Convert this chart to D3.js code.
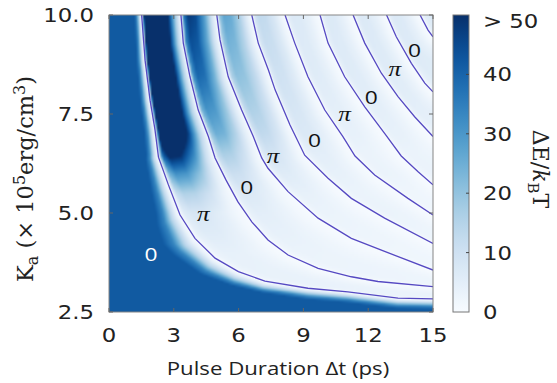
<!DOCTYPE html>
<html>
<head>
<meta charset="utf-8">
<script src="https://cdn.jsdelivr.net/npm/d3@7"></script>
<style>
  body { margin: 0; background: #fff; }
</style>
</head>
<body>
<svg id="chart" width="557" height="383"></svg>
<script>
// phase contours, as [pulse duration (ps), Ka]
const contour1 = [[1.51,10],[1.67,8.86],[1.90,7.85],[2.13,7.10],[2.29,6.41],[2.75,5.71],[3.29,4.95],[3.98,4.36],[4.91,3.86],[5.99,3.52],[7.22,3.28],[9.21,3.10],[11.06,3.01],[13.38,2.85],[15,2.83]];
const contour2 = [[3.33,10],[3.44,9.29],[3.75,8.44],[4.13,7.60],[4.60,6.93],[4.91,6.39],[5.42,5.83],[5.97,5.28],[6.62,4.77],[7.36,4.32],[8.29,3.94],[9.68,3.60],[11.22,3.39],[12.45,3.27],[15,3.14]];
const contour3 = [[4.99,10],[5.14,9.37],[5.52,8.44],[6.14,7.60],[6.68,6.93],[7.07,6.39],[7.36,6.13],[8.29,5.54],[9.68,4.87],[11.22,4.36],[12.76,4.03],[15,3.56]];
const contour4 = [[6.61,10],[6.91,9.29],[7.38,8.61],[7.69,8.11],[8.38,7.22],[9.06,6.46],[10.14,5.88],[11.22,5.37],[12.76,4.87],[15,4.23]];
const contour5 = [[8.15,10],[8.60,9.29],[9.21,8.44],[9.99,7.60],[10.83,6.93],[11.39,6.44],[12.30,5.96],[13.84,5.37],[15,4.95]];
const contour6 = [[9.77,10],[10.14,9.29],[10.91,8.44],[11.84,7.68],[12.76,7.01],[13.53,6.44],[14.31,6.04],[15,5.71]];
const contour7 = [[11.30,10],[11.84,9.29],[12.61,8.53],[13.38,7.94],[14.15,7.43],[15,6.93]];
const contour8 = [[12.85,10],[13.30,9.45],[14.00,8.78],[14.62,8.28],[15,8.06]];
const contour9 = [[14.40,10],[14.77,9.62],[15,9.45]];
const contours = [contour1, contour2, contour3, contour4, contour5, contour6, contour7, contour8, contour9];

// final state written in each band
const bandLabels = ["0", "π", "0", "π", "0", "π", "0", "π", "0"];
const bandLabelT = [1.94, 4.37, 6.38, 7.59, 9.52, 10.91, 12.14, 13.23, 14.15];
const bandLabelK = [3.96, 4.91, 5.66, 6.38, 6.84, 7.43, 7.94, 8.57, 9.12];

// peak barrier (kBT) inside each band, at these Ka levels
const peakK     = [2.5, 4, 5, 5.5, 6, 6.5, 7, 8.5, 10];
const peakBand1 = [3, 4, 8, 16, 32, 55, 78, 90, 90];
const peakBand2 = [2, 3, 5, 7, 11, 17, 25, 40, 48];
const peakBand3 = [2, 2, 3, 4, 6, 9, 13, 21, 27];
const peakBand4 = [2, 2, 3, 3, 4, 5, 7, 10, 13];
const peakRest  = [2, 2, 2, 2, 3, 3, 4, 6, 7];
// how the barrier runs across a band, from one contour to the next
const bandPos   = [0, 0.08, 0.2, 0.4, 0.65, 0.85, 1];
const bandShare = [0, 0.75, 1, 0.95, 0.6, 0.2, 0];
// first band (no switching): level and fade in front of the first contour
const band0Level = 42;
const fadeK     = [2.5, 3.0, 3.5, 4.2, 5, 6.5, 10];
const fadeWidth = [10, 12, 22, 30, 22, 12, 7];
const fadePos   = [0, 0.15, 0.4, 0.7, 1];
const fadeShare = [0, 0.08, 0.35, 0.8, 1];

const xTicks = [0, 3, 6, 9, 12, 15];
const yTicks = [2.5, 5.0, 7.5, 10.0];
const cbTicks = [0, 10, 20, 30, 40, 50];
const cbLabels = ["0", "10", "20", "30", "40", "> 50"];

const W = 557, H = 383;
const margin = { top: 15, right: 124, bottom: 71, left: 109 };
const width = W - margin.left - margin.right;
const height = H - margin.top - margin.bottom;
const stretch = 1.2; // the figure is a bit wider than tall
const sansFont = "'Open Sans', sans-serif";
const tickFont = "'DejaVu Sans', sans-serif";
const serifFont = "'DejaVu Serif', serif";
const piFont = "'Liberation Serif', serif";

const svg = d3.select("#chart");
const g = svg.append("g").attr("transform", `translate(${margin.left},${margin.top})`);

const x = d3.scaleLinear().domain([0, 15]).range([0, width]);
const y = d3.scaleLinear().domain([2.5, 10]).range([height, 0]);
const color = d3.scaleSequential(d3.interpolateBlues).domain([0, 50]).clamp(true);

const peakScales = [peakBand1, peakBand2, peakBand3, peakBand4, peakRest]
  .map(r => d3.scaleLinear().domain(peakK).range(r).clamp(true));
const shape = d3.scaleLinear().domain(bandPos).range(bandShare).clamp(true);
const fade = d3.scaleLinear().domain(fadeK).range(fadeWidth).clamp(true);
const fadeShape = d3.scaleLinear().domain(fadePos).range(fadeShare).clamp(true);

// contours in pixel space
const cpx = contours.map(c => c.map(([t, k]) => [x(t), y(k)]));

function beyond(c, px, py) {
  if (py < c[0][1] || py > c[c.length - 1][1]) return false;
  for (let i = 1; i < c.length; i++) {
    if (py <= c[i][1]) {
      const [x0, y0] = c[i - 1], [x1, y1] = c[i];
      const xi = y1 === y0 ? Math.max(x0, x1) : x0 + (x1 - x0) * (py - y0) / (y1 - y0);
      return px > xi;
    }
  }
  return false;
}

function dist(c, px, py) {
  let best = Infinity;
  for (let i = 1; i < c.length; i++) {
    const [x0, y0] = c[i - 1], [x1, y1] = c[i];
    const dx = x1 - x0, dy = y1 - y0;
    let u = ((px - x0) * dx + (py - y0) * dy) / (dx * dx + dy * dy);
    u = Math.max(0, Math.min(1, u));
    const ex = x0 + u * dx - px, ey = y0 + u * dy - py;
    best = Math.min(best, ex * ex + ey * ey);
  }
  return Math.sqrt(best);
}

function barrier(px, py) {
  let n = 0;
  while (n < cpx.length && beyond(cpx[n], px, py)) n++;
  const k = y.invert(py);
  if (n === 0) {
    return band0Level * fadeShape(dist(cpx[0], px, py) / fade(k));
  }
  const dPrev = dist(cpx[n - 1], px, py);
  const dNext = n < cpx.length ? dist(cpx[n], px, py) : 40;
  return peakScales[Math.min(n, 5) - 1](k) * shape(dPrev / (dPrev + dNext));
}

// heatmap raster, one cell per 2 px
const cell = 2;
const cols = Math.ceil(width / cell), rows = Math.ceil(height / cell);
const canvas = document.createElement("canvas");
canvas.width = cols; canvas.height = rows;
const ctx = canvas.getContext("2d");
for (let j = 0; j < rows; j++) {
  for (let i = 0; i < cols; i++) {
    ctx.fillStyle = color(barrier((i + 0.5) * cell, Math.min(height, (j + 0.5) * cell)));
    ctx.fillRect(i, j, 1, 1);
  }
}

svg.append("defs").append("clipPath").attr("id", "plot-clip")
  .append("rect").attr("width", width).attr("height", height);

const plot = g.append("g").attr("clip-path", "url(#plot-clip)");
plot.append("image")
  .attr("href", canvas.toDataURL())
  .attr("width", cols * cell)
  .attr("height", rows * cell)
  .attr("preserveAspectRatio", "none");

const line = d3.line().x(d => x(d[0])).y(d => y(d[1]));
plot.selectAll(".contour")
  .data(contours)
  .enter()
  .append("path")
  .attr("class", "contour")
  .attr("d", line)
  .attr("fill", "none")
  .attr("stroke", "#5549c2")
  .attr("stroke-width", 1.3);

// helper for the horizontally stretched text
function label(parent, px, py, txt, opts) {
  const t = parent.append("text")
    .attr("transform", `translate(${px},${py}) scale(${opts.sx || 1},1)${opts.rotate ? ` rotate(${opts.rotate})` : ""}`)
    .attr("text-anchor", opts.anchor || "middle")
    .attr("font-family", opts.font || sansFont)
    .attr("font-size", opts.size || 19.5)
    .attr("fill", opts.fill || "#222");
  if (opts.italic) t.attr("font-style", "italic");
  if (txt !== null) t.text(txt);
  return t;
}

bandLabels.forEach((s, i) => {
  const isPi = s === "π";
  label(g, x(bandLabelT[i]), y(bandLabelK[i]) + (isPi ? 4.5 : 7), s, {
    sx: stretch,
    size: isPi ? 21 : 19,
    font: isPi ? piFont : sansFont,
    italic: isPi,
    fill: i === 0 ? "#fff" : "#111"
  });
});

// frame and inward ticks
g.append("rect").attr("width", width).attr("height", height)
  .attr("fill", "none").attr("stroke", "#858585").attr("stroke-width", 1);
const tickLen = 4;
xTicks.forEach(v => {
  g.append("line").attr("x1", x(v)).attr("x2", x(v)).attr("y1", height).attr("y2", height - tickLen).attr("stroke", "#666");
  g.append("line").attr("x1", x(v)).attr("x2", x(v)).attr("y1", 0).attr("y2", tickLen).attr("stroke", "#666");
  label(g, x(v), height + 29.5, String(v), { sx: stretch, font: tickFont, size: 19 });
});
yTicks.forEach(v => {
  g.append("line").attr("x1", 0).attr("x2", tickLen).attr("y1", y(v)).attr("y2", y(v)).attr("stroke", "#666");
  g.append("line").attr("x1", width).attr("x2", width - tickLen).attr("y1", y(v)).attr("y2", y(v)).attr("stroke", "#666");
  label(g, -15, y(v) + 7, v.toFixed(1), { sx: stretch, anchor: "end", font: tickFont, size: 19 });
});

// axis titles
label(svg, 278, 375, "Pulse Duration Δt (ps)", { sx: stretch, size: 18.5 });

const yt = label(svg, 33, 179, null, { rotate: -90, font: serifFont, size: 22.5 });
yt.append("tspan").text("K");
yt.append("tspan").attr("dy", 5).attr("font-size", 16).text("a");
yt.append("tspan").attr("dy", -5).text(" (× 10");
yt.append("tspan").attr("dy", -8).attr("font-size", 16).text("5");
yt.append("tspan").attr("dy", 8).text("erg/cm");
yt.append("tspan").attr("dy", -8).attr("font-size", 16).text("3");
yt.append("tspan").attr("dy", 8).text(")");

// colour bar
const cbX = 453, cbW = 16;
const cb = d3.scaleLinear().domain([0, 50]).range([margin.top + height, margin.top]);
const grad = svg.select("defs").append("linearGradient")
  .attr("id", "cb-grad").attr("x1", 0).attr("x2", 0).attr("y1", 1).attr("y2", 0);
grad.selectAll("stop")
  .data(d3.range(0, 1.0001, 0.05))
  .enter()
  .append("stop")
  .attr("offset", d => d)
  .attr("stop-color", d => color(d * 50));
svg.append("rect")
  .attr("x", cbX).attr("y", cb(50)).attr("width", cbW).attr("height", cb(0) - cb(50))
  .attr("fill", "url(#cb-grad)").attr("stroke", "#777").attr("stroke-width", 1);
cbTicks.forEach((v, i) => {
  if (v > 0 && v < 50) {
    svg.append("line").attr("x1", cbX + cbW).attr("x2", cbX + cbW - 3)
      .attr("y1", cb(v)).attr("y2", cb(v)).attr("stroke", "#444");
  }
  label(svg, cbX + 30, (v === 50 ? cb(v) + 6 : cb(v)) + 7, cbLabels[i], { sx: stretch, anchor: "start", font: tickFont, size: 19 });
});

const ct = label(svg, 533, 169, null, { rotate: 90, font: serifFont, size: 22 });
ct.append("tspan").text("ΔE/");
ct.append("tspan").attr("font-style", "italic").text("k");
ct.append("tspan").attr("dy", 5).attr("font-size", 15).text("B");
ct.append("tspan").attr("dy", -5).text("T");
</script>
</body>
</html>
